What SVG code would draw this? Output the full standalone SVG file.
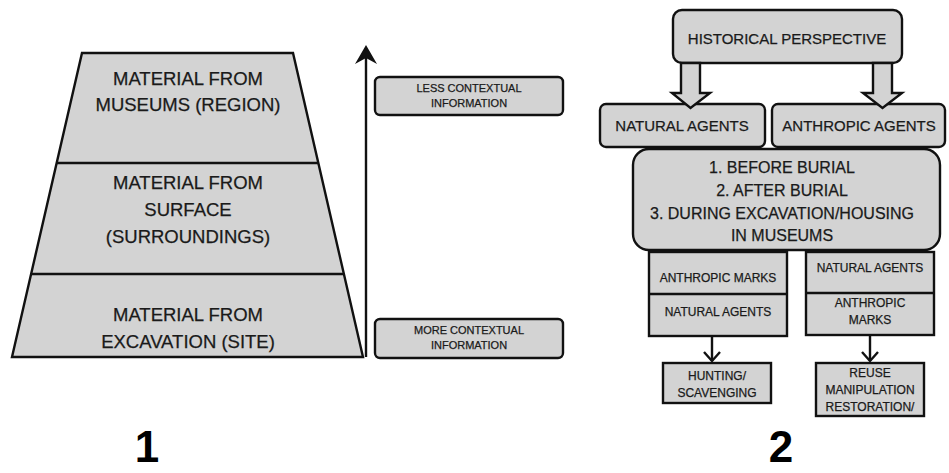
<svg xmlns="http://www.w3.org/2000/svg" width="949" height="473" viewBox="0 0 949 473">
<style>
.box{fill:#d3d3d3;stroke:#111;stroke-width:2.4}
.ln{fill:none;stroke:#111;stroke-width:2.4}
text{font-family:"Liberation Sans",Arial,sans-serif;fill:#1a1a1a;text-anchor:middle;stroke:#1a1a1a;stroke-width:0.25}
.big{font-size:18.5px}
.sm{font-size:11px}
.md{font-size:12px}
.hd{font-size:15px}
.bb{font-size:16px}
.num{font-size:44px;font-weight:bold;fill:#000;stroke:none}
</style>
<rect width="949" height="473" fill="#fff"/>
<g id="pyramid">
<polygon class="box" points="82,53 293,53 363,357 12,357" stroke-width="3"/>
<line class="ln" x1="57" y1="163" x2="318" y2="163" stroke-width="2.5"/>
<line class="ln" x1="31" y1="274" x2="344" y2="274" stroke-width="2.5"/>
</g>
<g id="museums"><text class="big" x="188" y="85">MATERIAL FROM</text><text class="big" x="188" y="111">MUSEUMS (REGION)</text></g>
<g id="surface"><text class="big" x="188" y="189">MATERIAL FROM</text><text class="big" x="188" y="216">SURFACE</text><text class="big" x="188" y="243">(SURROUNDINGS)</text></g>
<g id="excavation"><text class="big" x="188" y="321">MATERIAL FROM</text><text class="big" x="188" y="348">EXCAVATION (SITE)</text></g>
<g id="less"><rect class="box" x="375" y="77" width="188" height="38" rx="5"/><text class="sm" x="469" y="92">LESS CONTEXTUAL</text><text class="sm" x="469" y="107">INFORMATION</text></g>
<g id="more"><rect class="box" x="375" y="319" width="188" height="39" rx="5"/><text class="sm" x="469" y="334">MORE CONTEXTUAL</text><text class="sm" x="469" y="349">INFORMATION</text></g>
<g id="historical"><rect class="box" x="673" y="10" width="229" height="53" rx="9"/><text class="hd" x="787" y="44">HISTORICAL PERSPECTIVE</text></g>
<g id="natural"><rect class="box" x="600" y="104" width="165" height="43" rx="6"/><text class="hd" x="682" y="131">NATURAL AGENTS</text></g>
<g id="anthropic"><rect class="box" x="772" y="104" width="173" height="43" rx="6"/><text class="hd" x="859" y="131">ANTHROPIC AGENTS</text></g>
<g id="stages"><rect class="box" x="633" y="149" width="307" height="101" rx="16"/>
<text class="bb" x="782" y="173">1. BEFORE BURIAL</text><text class="bb" x="782" y="196">2. AFTER BURIAL</text><text class="bb" x="782" y="219">3. DURING EXCAVATION/HOUSING</text><text class="bb" x="782" y="241">IN MUSEUMS</text></g>
<g id="leftmarks"><rect class="box" x="649" y="252" width="138" height="84"/><line class="ln" x1="649" y1="294" x2="787" y2="294"/>
<text class="md" x="718" y="282">ANTHROPIC MARKS</text><text class="md" x="718" y="316">NATURAL AGENTS</text></g>
<g id="rightmarks"><rect class="box" x="806" y="252" width="128" height="83"/><line class="ln" x1="806" y1="293" x2="934" y2="293"/>
<text class="md" x="870" y="272">NATURAL AGENTS</text><text class="md" x="870" y="307">ANTHROPIC</text><text class="md" x="870" y="324">MARKS</text></g>
<g id="hunting"><rect class="box" x="663" y="363" width="108" height="40"/><text class="md" x="717" y="380">HUNTING/</text><text class="md" x="717" y="397">SCAVENGING</text></g>
<g id="reuse"><rect class="box" x="816" y="363" width="108" height="53"/><text class="md" x="870" y="377">REUSE</text><text class="md" x="870" y="394">MANIPULATION</text><text class="md" x="870" y="411">RESTORATION/</text></g>
<g id="connectors">
<line class="ln" x1="366" y1="357" x2="366" y2="55" stroke-width="3"/>
<polygon points="366,45 377,64 366,58 355,64" fill="#111"/>
<polygon class="box" points="681,63 700,63 700,93 710,93 690.5,108 672,93 681,93"/>
<polygon class="box" points="873,63 892,63 892,93 902,93 882.5,108 863,93 873,93"/>
<line class="ln" x1="712" y1="336" x2="712" y2="361"/>
<polyline class="ln" points="704,352 712,361 720,352"/>
<line class="ln" x1="870" y1="335" x2="870" y2="361"/>
<polyline class="ln" points="862,352 870,361 878,352"/>
</g>
<g id="labels"><text class="num" x="147" y="462">1</text><text class="num" x="781" y="462">2</text></g>
</svg>
